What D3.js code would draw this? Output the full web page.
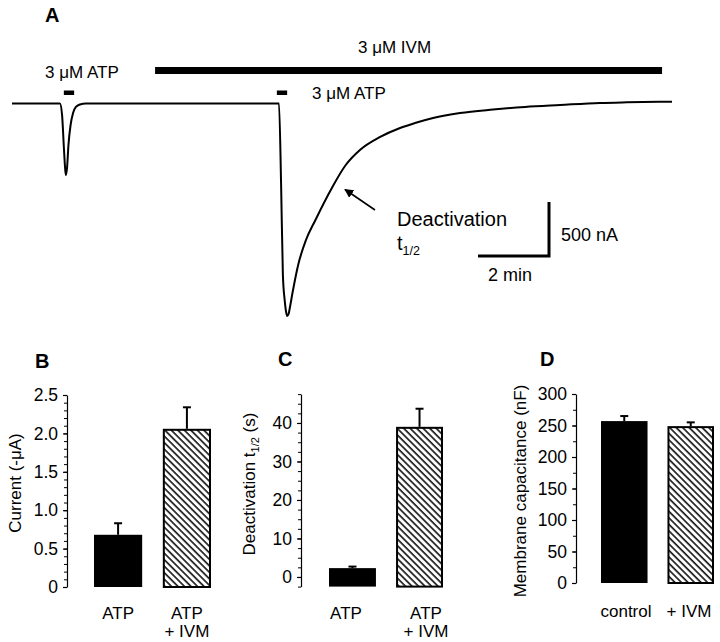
<!DOCTYPE html>
<html>
<head>
<meta charset="utf-8">
<script src="https://cdn.jsdelivr.net/npm/d3@7/dist/d3.min.js"></script>
<style>
  html, body { margin: 0; padding: 0; background: #fff; }
  svg { display: block; font-family: "Liberation Sans", Arial, Helvetica, sans-serif; }
</style>
</head>
<body>
<svg id="chart" width="720" height="642"></svg>
<script>
// ---------------- Panel A data (time in min, current in nA) ----------------
const traceTimeMin = [0, 1.35, 1.41, 1.465, 1.50, 1.52, 1.55, 1.59, 1.65, 1.72, 1.80, 1.915, 2.08,
  7.52, 7.58, 7.63, 7.68, 7.72, 7.75, 7.79, 7.83, 7.90, 8.06, 8.28, 8.54, 9.01, 9.38, 9.80,
  10.37, 10.93, 11.35, 11.86, 12.62, 13.55, 14.45, 15.44, 16.56, 17.32, 18.59];
const traceCurrentNA = [0, 0, -106, -431, -616, -662, -597, -384, -199, -88, -32, -9, 0,
  0, -755, -1588, -1819, -1930, -1968, -1949, -1884, -1755, -1495, -1264, -1083, -782, -579, -431,
  -310, -227, -181, -134, -88, -56, -32, -14, 5, 11, 17];
const atpPulsesMin = [[1.46, 1.75], [7.46, 7.75]];
const ivmPeriodMin = [4.03, 18.31];
const scaleBarTimeMin = 2;
const scaleBarCurrentNA = 500;

// ---------------- Panel B ----------------
const bCategories = ["ATP", "ATP\n+ IVM"];
const bValues = [0.68, 2.06];
const bErrors = [0.15, 0.28];
const bTicks = [0, 0.5, 1.0, 1.5, 2.0, 2.5];

// ---------------- Panel C ----------------
const cCategories = ["ATP", "ATP\n+ IVM"];
const cValues = [2.3, 39.0];
const cErrors = [0.4, 4.7];
const cTicks = [0, 10, 20, 30, 40];

// ---------------- Panel D ----------------
const dCategories = ["control", "+ IVM"];
const dValues = [257, 249];
const dErrors = [8, 6];
const dTicks = [0, 50, 100, 150, 200, 250, 300];

const svg = d3.select("#chart");

// hatch pattern
const defs = svg.append("defs");
defs.append("pattern")
  .attr("id", "hatch")
  .attr("patternUnits", "userSpaceOnUse")
  .attr("width", 4.6).attr("height", 4.6)
  .attr("patternTransform", "rotate(-45)")
  .append("line")
  .attr("x1", 1).attr("y1", 0).attr("x2", 1).attr("y2", 4.6)
  .attr("stroke", "#000").attr("stroke-width", 1.5);

defs.append("marker")
  .attr("id", "arrowhead")
  .attr("viewBox", "0 0 10 10")
  .attr("refX", 9).attr("refY", 5)
  .attr("markerWidth", 9).attr("markerHeight", 9)
  .attr("markerUnits", "userSpaceOnUse")
  .attr("orient", "auto")
  .append("path").attr("d", "M0,0 L10,5 L0,10 Z").attr("fill", "#000");

// ---------------- Panel A ----------------
const xT = d3.scaleLinear().domain([0, 18.59]).range([12, 672]);
const yT = d3.scaleLinear().domain([0, -2000]).range([103.5, 319.5]);

const gA = svg.append("g");
gA.append("text").attr("x", 45).attr("y", 22).attr("font-size", 20).attr("font-weight", "bold").text("A");

gA.append("path")
  .datum(traceTimeMin.map((t, i) => [t, traceCurrentNA[i]]))
  .attr("fill", "none").attr("stroke", "#000").attr("stroke-width", 2)
  .attr("stroke-linejoin", "round")
  .attr("d", d3.line().x(d => xT(d[0])).y(d => yT(d[1])).curve(d3.curveMonotoneX));

gA.selectAll("rect.atp").data(atpPulsesMin).join("rect")
  .attr("class", "atp")
  .attr("x", d => xT(d[0])).attr("width", d => xT(d[1]) - xT(d[0]))
  .attr("y", 90.5).attr("height", 4.5).attr("fill", "#000");

gA.append("rect")
  .attr("x", xT(ivmPeriodMin[0])).attr("width", xT(ivmPeriodMin[1]) - xT(ivmPeriodMin[0]))
  .attr("y", 67).attr("height", 7).attr("fill", "#000");

gA.append("text").attr("x", 45).attr("y", 78).attr("font-size", 17).text("3 \u03BCM ATP");
gA.append("text").attr("x", 312).attr("y", 99).attr("font-size", 17).text("3 \u03BCM ATP");
gA.append("text").attr("x", 358).attr("y", 53).attr("font-size", 17).text("3 \u03BCM IVM");

// arrow
gA.append("line").attr("x1", 375).attr("y1", 210).attr("x2", 345).attr("y2", 189.5)
  .attr("stroke", "#000").attr("stroke-width", 1.6).attr("marker-end", "url(#arrowhead)");

gA.append("text").attr("x", 397).attr("y", 226).attr("font-size", 20).text("Deactivation");
const t12 = gA.append("text").attr("x", 397).attr("y", 250).attr("font-size", 20);
t12.append("tspan").text("t");
t12.append("tspan").attr("font-size", 12.5).attr("dy", 5).text("1/2");

// scale bar
const cornerX = 549, cornerY = 256;
const sbW = xT(scaleBarTimeMin) - xT(0);
const sbH = yT(-scaleBarCurrentNA) - yT(0);
gA.append("path")
  .attr("d", `M${cornerX - sbW},${cornerY} L${cornerX},${cornerY} L${cornerX},${cornerY - sbH}`)
  .attr("fill", "none").attr("stroke", "#000").attr("stroke-width", 3).attr("stroke-linejoin", "miter");
gA.append("text").attr("x", 561).attr("y", 241).attr("font-size", 18).text("500 nA");
gA.append("text").attr("x", 488).attr("y", 281).attr("font-size", 18).text("2 min");

// ---------------- Bar panels ----------------
function barPanel(opts) {
  const g = svg.append("g");
  const y = d3.scaleLinear().domain(opts.domain).range([opts.yBottom, opts.yTop]);
  const x = d3.scaleBand().domain(opts.categories).range(opts.xRange).paddingInner(0.3).paddingOuter(0);

  g.append("text").attr("x", opts.letterX).attr("y", opts.letterY)
    .attr("font-size", 20).attr("font-weight", "bold").text(opts.letter);

  // minor ticks
  const minorAxis = d3.axisLeft(y).tickValues(opts.minorTicks).tickSize(3).tickFormat("").tickSizeOuter(0);
  const gm = g.append("g").attr("transform", `translate(${opts.axisX},0)`).call(minorAxis);
  gm.select(".domain").remove();
  gm.selectAll("line").attr("stroke-width", 1);

  const axis = d3.axisLeft(y).tickValues(opts.ticks).tickSize(4).tickSizeOuter(0).tickPadding(5)
    .tickFormat(opts.fmt);
  const ga = g.append("g").attr("transform", `translate(${opts.axisX},0)`).call(axis);
  ga.select(".domain").attr("stroke-width", 1.2);
  ga.selectAll("line").attr("stroke-width", 1.2);
  ga.selectAll("text").attr("font-size", 17.5).attr("fill", "#000")
    .attr("font-family", "\"Liberation Sans\", Arial, sans-serif");

  // bars
  const base = opts.domain[0];
  opts.values.forEach((v, i) => {
    const c = opts.categories[i];
    const bx = x(c), bw = x.bandwidth();
    const top = y(v), bot = y(base);
    // error bar
    const ex = bx + bw / 2;
    g.append("line").attr("x1", ex).attr("x2", ex).attr("y1", top).attr("y2", y(v + opts.errors[i]))
      .attr("stroke", "#000").attr("stroke-width", 2);
    g.append("line").attr("x1", ex - 4).attr("x2", ex + 4)
      .attr("y1", y(v + opts.errors[i])).attr("y2", y(v + opts.errors[i]))
      .attr("stroke", "#000").attr("stroke-width", 2);
    if (i === 0) {
      g.append("rect").attr("x", bx).attr("y", top).attr("width", bw).attr("height", bot - top)
        .attr("fill", "#000");
    } else {
      g.append("rect").attr("x", bx + 1).attr("y", top + 1).attr("width", bw - 2).attr("height", bot - top - 1)
        .attr("fill", "url(#hatch)").attr("stroke", "#000").attr("stroke-width", 2);
    }
    // category labels
    const lines = c.split("\n");
    const lx = opts.labelX ? opts.labelX[i] : ex;
    lines.forEach((ln, k) => {
      g.append("text").attr("x", lx).attr("y", opts.labelY + k * 18)
        .attr("text-anchor", "middle").attr("font-size", 17).text(ln);
    });
  });

  // y title
  const tt = g.append("text")
    .attr("transform", `translate(${opts.titleX},${opts.titleY}) rotate(-90)`)
    .attr("text-anchor", "middle").attr("font-size", 17);
  opts.title(tt);
}

function range(a, b, s) { const r = []; for (let v = a; v <= b + 1e-9; v += s) r.push(+v.toFixed(4)); return r; }

barPanel({
  letter: "B", letterX: 35, letterY: 368,
  categories: bCategories, values: bValues, errors: bErrors,
  domain: [0, 2.5], yBottom: 587, yTop: 395,
  ticks: bTicks, minorTicks: range(0, 2.5, 0.1),
  fmt: d => d === 0 ? "0" : d3.format(".1f")(d),
  axisX: 67, xRange: [94, 211], labelY: 619,
  titleX: 21, titleY: 483,
  title: t => t.text("Current (-\u03BCA)")
});

barPanel({
  letter: "C", letterX: 278, letterY: 366,
  categories: cCategories, values: cValues, errors: cErrors,
  domain: [-2.5, 47.5], yBottom: 586.6, yTop: 394.1,
  ticks: cTicks, minorTicks: range(-2.5, 47.5, 2.5),
  fmt: d3.format("d"),
  axisX: 301, xRange: [329, 443], labelY: 619, labelX: [346, 426],
  titleX: 255, titleY: 484,
  title: t => {
    t.append("tspan").text("Deactivation  t");
    t.append("tspan").attr("font-size", 11).attr("dy", 4).text("1/2");
    t.append("tspan").attr("dy", -4).text(" (s)");
  }
});

barPanel({
  letter: "D", letterX: 540, letterY: 366,
  categories: dCategories, values: dValues, errors: dErrors,
  domain: [0, 300], yBottom: 583, yTop: 394,
  ticks: dTicks, minorTicks: range(0, 300, 25),
  fmt: d3.format("d"),
  axisX: 576, xRange: [601, 714], labelY: 617, labelX: [626, 689],
  titleX: 526, titleY: 491,
  title: t => t.text("Membrane capacitance (nF)")
});
</script>
</body>
</html>
